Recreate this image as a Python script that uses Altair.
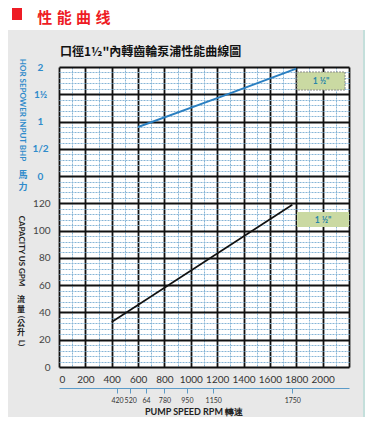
import json
import altair as alt
import pandas as pd

# ---------------- data ----------------
hp_rpm = [600, 1200, 1800]          # horsepower curve (blue)
hp_val = [0.90, 1.43, 1.97]
gpm_rpm = [400, 1770]               # capacity curve (black)
gpm_val = [33, 119]

rpm_labels = [0, 200, 400, 600, 800, 1000, 1200, 1400, 1600, 1800, 2000]
gpm_labels = [0, 20, 40, 60, 80, 100, 120]
hp_ticks = [0, 0.5, 1, 1.5, 2]
hp_tick_text = ["0", "1/2", "1", "1½", "2"]
sec_rpm = [420, 520, 640, 780, 950, 1150, 1750]
sec_text = ["420", "520", "64", "780", "950", "1150", "1750"]

# ---------------- geometry / styles ----------------
W, H = 290, 300
X_DOMAIN = [0, 2200]
Y_DOMAIN = [0, 220]
HP_DOMAIN = [-3.5, 2]
HP_PER = (Y_DOMAIN[1] - Y_DOMAIN[0]) / (HP_DOMAIN[1] - HP_DOMAIN[0])
hp_pos = [(h - HP_DOMAIN[0]) * HP_PER for h in hp_ticks]

BLUE = "#2a7fc1"
HPBLUE = "#2f8bcb"
MINOR = "#86b5d6"
RED = "#ee1c25"
FONT = "Lato"
CJK = "Noto Sans CJK TC"

df_hp = pd.DataFrame({"rpm": hp_rpm, "hp": hp_val})
df_gpm = pd.DataFrame({"rpm": gpm_rpm, "gpm": gpm_val})
df_sec = pd.DataFrame({"rpm2": sec_rpm})
one = pd.DataFrame({"a": [0]})

y_vals = list(range(0, 221, 4))
y_lab_vals = gpm_labels + hp_pos
y_lab_txt = [str(v) for v in gpm_labels] + hp_tick_text
y_label_expr = (f"{json.dumps(y_lab_txt, ensure_ascii=False)}"
                f"[indexof({json.dumps(y_lab_vals)}, datum.value)] || ''")
x_label_expr = f"indexof({json.dumps(rpm_labels)}, datum.value) >= 0 ? datum.label : ''"
sec_label_expr = (f"{json.dumps(sec_text)}[indexof({json.dumps(sec_rpm)}, datum.value)] || ''")

xaxis = alt.Axis(
    values=list(range(0, 2201, 100)), labelExpr=x_label_expr, format="d", title=None,
    grid=True, ticks=False, tickSize=0, domain=False, labelOverlap=False,
    labelFont=FONT, labelFontSize=10, labelColor="#333", labelPadding=7,
    gridColor={"condition": {"test": "datum.value % 200 !== 0", "value": MINOR}, "value": "#111"},
    gridDash={"condition": {"test": "datum.value % 200 !== 0", "value": [2, 1]}, "value": []},
    gridWidth={"condition": {"test": "datum.value % 200 !== 0", "value": 1}, "value": 1.8},
    gridOpacity=1,
)
yaxis = alt.Axis(
    values=y_vals, labelExpr=y_label_expr, title=None,
    grid=True, ticks=False, tickSize=0, domain=False, labelOverlap=False,
    labelFont=FONT, labelFontSize=10, labelBaseline="middle",
    labelColor={"condition": {"test": "datum.value > 130", "value": HPBLUE}, "value": "#444"},
    labelFontWeight={"condition": {"test": "datum.value > 130", "value": "bold"}, "value": "normal"},
    labelAlign={"condition": {"test": "datum.value > 130", "value": "center"}, "value": "right"},
    labelPadding={"condition": {"test": "datum.value > 130", "value": 19}, "value": 9},
    gridColor={"condition": {"test": "datum.value % 20 !== 0", "value": MINOR}, "value": "#111"},
    gridDash={"condition": {"test": "datum.value % 20 !== 0", "value": [2, 1]}, "value": []},
    gridWidth={"condition": {"test": "datum.value % 20 !== 0", "value": 1}, "value": 1.8},
    gridOpacity=1,
)

black = alt.Chart(df_gpm).mark_line(color="#111", strokeWidth=1.6).encode(
    x=alt.X("rpm:Q", scale=alt.Scale(domain=X_DOMAIN, nice=False, zero=False), axis=xaxis),
    y=alt.Y("gpm:Q", scale=alt.Scale(domain=Y_DOMAIN, nice=False, zero=False), axis=yaxis),
)
blue = alt.Chart(df_hp).mark_line(color=BLUE, strokeWidth=2).encode(
    x=alt.X("rpm:Q", scale=alt.Scale(domain=X_DOMAIN, nice=False, zero=False), axis=None),
    y=alt.Y("hp:Q", scale=alt.Scale(domain=HP_DOMAIN, nice=False, zero=False), axis=None),
)
secondary = alt.Chart(df_sec).mark_point(opacity=0).encode(
    x=alt.X("rpm2:Q", scale=alt.Scale(domain=[-20, 2180], nice=False, zero=False),
            axis=alt.Axis(orient="bottom", offset=21, values=sec_rpm, labelExpr=sec_label_expr,
                          title=None, grid=False, domainColor="#5b9bc8", domainWidth=1.2,
                          tickColor="#5b9bc8", tickSize=5, labelFont=FONT, labelFontSize=7,
                          labelColor="#333", labelPadding=3, labelOverlap=False)),
    y=alt.value(0),
)

def rect(x, x2, y, y2, **kw):
    return alt.Chart(one).mark_rect(**kw).encode(
        x=alt.value(x), x2=alt.value(x2), y=alt.value(y), y2=alt.value(y2))

def text(s, x, y, **kw):
    return alt.Chart(one).mark_text(text=s, **kw).encode(x=alt.value(x), y=alt.value(y))

header = rect(-51, 306, -59, -37, color="white")
red_sq = rect(-47, -37, -59, -47, color=RED)
red_txt = [text(c, xx, -49.5, align="center", baseline="middle", font="Noto Sans CJK SC",
                fontSize=15, fontWeight="bold", color=RED)
           for c, xx in zip("性能曲线", (-14.2, 5.2, 24.6, 44))]
edge = alt.Chart(one).mark_rule(color="#b9ddd7", strokeWidth=1.5).encode(
    x=alt.value(305), y=alt.value(-37), y2=alt.value(350))
title = text('口徑1½"內轉齒輪泵浦性能曲線圖', 1, -15, align="left", baseline="middle",
             font=CJK, fontSize=12, fontWeight="bold", color="#111")

# vertical axis titles (latin part rotated, Chinese characters upright)
hp_title = text("HOR SEPOWER INPUT BHP", -37, 43, angle=90, align="center", baseline="middle",
                font=FONT, fontSize=8, fontWeight="bold", color=HPBLUE)
hp_cn = [text(c, -36, yy, align="center", baseline="middle", font=CJK, fontSize=9,
              fontWeight="bold", color=HPBLUE) for c, yy in (("馬", 108), ("力", 119.5))]
gpm_title = text("CAPACITY US GPM", -38, 184, angle=90, align="center", baseline="middle",
                 font=FONT, fontSize=8, fontWeight="bold", color="#222")
gpm_cn = [
    text("流", -38, 233, align="center", baseline="middle", font=CJK, fontSize=8,
         fontWeight="bold", color="#222"),
    text("量", -38, 243, align="center", baseline="middle", font=CJK, fontSize=8,
         fontWeight="bold", color="#222"),
    text("(", -38, 250, angle=90, align="center", baseline="middle", font=FONT, fontSize=8,
         fontWeight="bold", color="#222"),
    text("公", -38, 256.5, align="center", baseline="middle", font=CJK, fontSize=8,
         fontWeight="bold", color="#222"),
    text("升", -38, 266, align="center", baseline="middle", font=CJK, fontSize=8,
         fontWeight="bold", color="#222"),
    text("L)", -38, 276, angle=90, align="center", baseline="middle", font=FONT, fontSize=8,
         fontWeight="bold", color="#222"),
]
x_title = text("PUMP SPEED RPM   轉速", 135, 345, align="center", baseline="middle",
               font=FONT, fontSize=9, fontWeight="bold", color="#222")

leg1 = rect(238, 286, 5, 23, color="#cad9a2", stroke="#8a8a8a", strokeDash=[2, 1], strokeWidth=1)
leg2 = rect(238, 290, 145, 160, color="#cad9a2")
leg1_t = text('1 ½"', 262, 14, align="center", baseline="middle", font=FONT, fontSize=8.5,
              fontWeight="bold", color="#2a86a8")
leg2_t = text('1 ½"', 264, 152.5, align="center", baseline="middle", font=FONT, fontSize=8.5,
              fontWeight="bold", color="#2a86a8")

chart = alt.layer(
    black, blue, secondary,
    header, red_sq, *red_txt, edge, title,
    hp_title, *hp_cn, gpm_title, *gpm_cn, x_title,
    leg1, leg2, leg1_t, leg2_t,
).resolve_scale(x="independent", y="independent").properties(
    width=W, height=H,
    autosize=alt.AutoSizeParams(type="none"),
    padding={"left": 51, "top": 59, "right": 16, "bottom": 50},
    background="#e8e8e8",
).configure_view(fill="white", stroke=None)

chart.save("out.html", embed_options={"renderer": "svg", "actions": False})
